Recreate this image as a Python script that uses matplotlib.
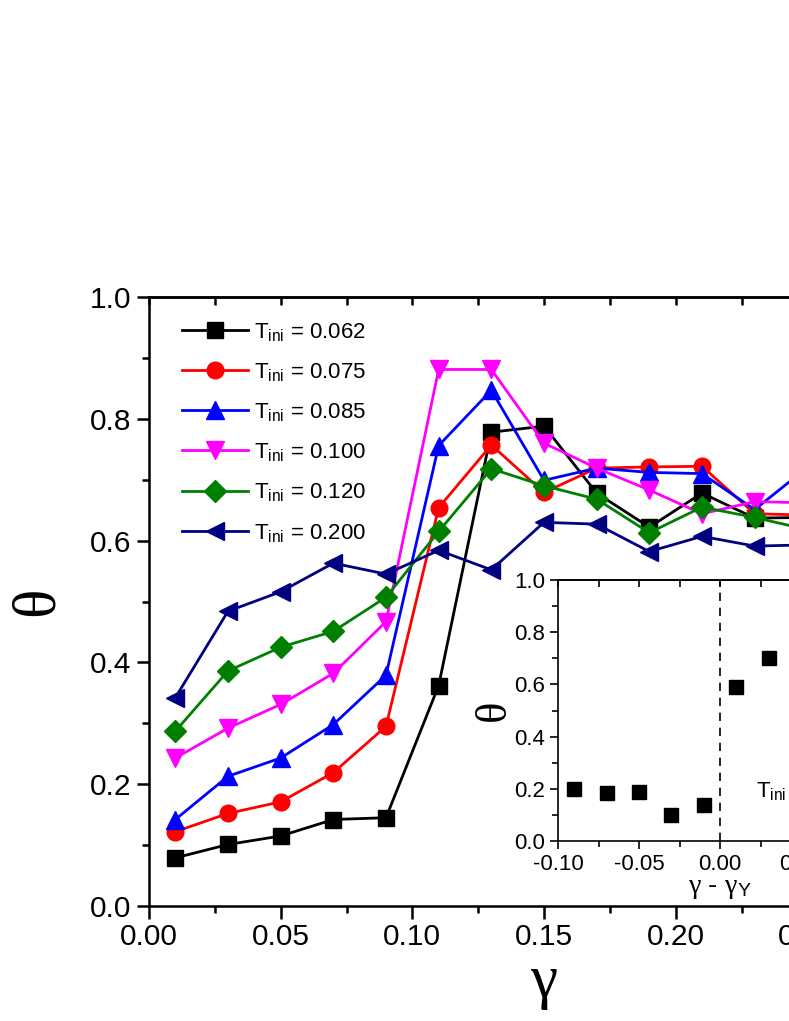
import matplotlib
matplotlib.use("Agg")
import matplotlib.pyplot as plt
import numpy as np

plt.rcParams['font.family'] = ['Liberation Sans', 'DejaVu Sans']
plt.rcParams['mathtext.fontset'] = 'custom'
plt.rcParams['mathtext.rm'] = 'Liberation Serif'
plt.rcParams['mathtext.it'] = 'Liberation Serif'
plt.rcParams['mathtext.sf'] = 'Liberation Sans'

# main panel data
gamma = [0.01, 0.03, 0.05, 0.07, 0.09, 0.11, 0.13, 0.15, 0.17, 0.19, 0.21, 0.23, 0.25]
t_ini = ["0.062", "0.075", "0.085", "0.100", "0.120", "0.200"]
theta_062 = [0.079, 0.101, 0.115, 0.142, 0.145, 0.362, 0.778, 0.788, 0.678, 0.622, 0.678, 0.637, 0.638]
theta_075 = [0.122, 0.152, 0.171, 0.219, 0.295, 0.654, 0.757, 0.679, 0.719, 0.721, 0.722, 0.644, 0.642]
theta_085 = [0.142, 0.213, 0.243, 0.298, 0.379, 0.756, 0.847, 0.699, 0.719, 0.712, 0.710, 0.651, 0.720]
theta_100 = [0.243, 0.292, 0.331, 0.382, 0.467, 0.881, 0.881, 0.760, 0.719, 0.683, 0.644, 0.664, 0.662]
theta_120 = [0.287, 0.386, 0.425, 0.451, 0.507, 0.615, 0.718, 0.690, 0.668, 0.613, 0.655, 0.638, 0.618]
theta_200 = [0.342, 0.484, 0.516, 0.563, 0.545, 0.584, 0.552, 0.630, 0.627, 0.582, 0.607, 0.591, 0.593]

# inset data
dgamma = [-0.09, -0.07, -0.05, -0.03, -0.01, 0.01, 0.03]
theta_inset = [0.198, 0.183, 0.189, 0.100, 0.138, 0.591, 0.700]

series = [theta_062, theta_075, theta_085, theta_100, theta_120, theta_200]
colors = ['black', '#ff0000', '#0000ff', '#ff00ff', '#008000', '#000080']
markers = ['s', 'o', '^', 'v', 'D', '<']
msizes = [11, 12, 12.5, 12.5, 11, 12.5]


def style_axes(a, xmaj, xmin, lsize, lw, lmaj, lmin):
    a.set_xticks(xmaj)
    a.set_xticks(xmin, minor=True)
    a.set_yticks(np.arange(0, 1.01, 0.2))
    a.set_yticks(np.arange(0, 1.01, 0.1), minor=True)
    a.xaxis.set_major_formatter(matplotlib.ticker.FormatStrFormatter('%.2f'))
    a.yaxis.set_major_formatter(matplotlib.ticker.FormatStrFormatter('%.1f'))
    a.tick_params(which='both', labelsize=lsize, width=lw, direction='out', top=False, right=False)
    a.tick_params(which='major', length=lmaj)
    a.tick_params(which='minor', length=lmin)
    for sp in a.spines.values():
        sp.set_linewidth(lw)
    # mirrored ticks on top point inward
    top = a.secondary_xaxis('top')
    top.set_xticks(xmaj)
    top.set_xticks(xmin, minor=True)
    top.tick_params(which='both', direction='in', width=lw, length=lmin + 1, labeltop=False)
    top.spines['top'].set_linewidth(lw)


fig = plt.figure(figsize=(7.89, 10.21), dpi=100)
ax = fig.add_axes([149/789, 1 - 906/1021, (939 - 149)/789, (906 - 297)/1021])

for y, c, m, ms, lab in zip(series, colors, markers, msizes, t_ini):
    ax.plot(gamma, y, color=c, marker=m, markersize=ms, lw=2.0,
            label=r'T$_\mathsf{ini}$ = ' + lab)

ax.set_xlim(0.0, 0.30)
ax.set_ylim(0.0, 1.0)
style_axes(ax, np.arange(0, 0.301, 0.05), np.arange(0, 0.301, 0.025), 21.5, 1.8, 9, 5)
ax.set_xlabel('γ', fontfamily='Liberation Serif', fontsize=44, labelpad=2)
ax.set_ylabel('θ', fontfamily='Liberation Serif', fontsize=44, labelpad=18)

ax.legend(loc='upper left', bbox_to_anchor=(0.03, 0.976), frameon=False, fontsize=16,
          handlelength=3.0, handletextpad=0.25, labelspacing=0.82, borderaxespad=0)

# inset
axi = fig.add_axes([558/789, 1 - 841/1021, (882 - 558)/789, (841 - 580)/1021])
axi.plot(dgamma, theta_inset, 's', color='black', markersize=10.5)
axi.axvline(0.0, color='black', lw=1.2, ls=(0, (5, 4)))
axi.set_xlim(-0.10, 0.10)
axi.set_ylim(0.0, 1.0)
style_axes(axi, np.arange(-0.10, 0.101, 0.05), np.arange(-0.10, 0.101, 0.025), 16, 1.2, 6, 4)
axi.set_xlabel(r'$\gamma$ - $\gamma_\mathsf{Y}$', fontsize=20, labelpad=0)
axi.set_ylabel('θ', fontfamily='Liberation Serif', fontsize=32, labelpad=0)
axi.text(0.022, 0.17, r'T$_\mathsf{ini}$ = 0.062', fontsize=16)

fig.savefig('out.png', dpi=100)
